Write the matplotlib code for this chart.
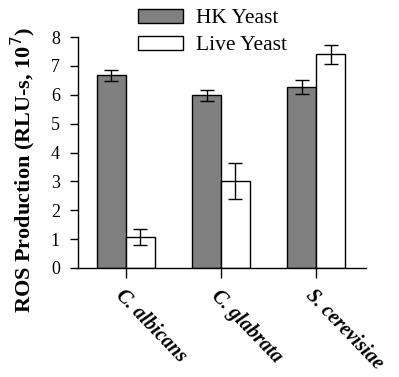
import matplotlib
matplotlib.use("Agg")
import matplotlib.pyplot as plt
import numpy as np

categories = ["C. albicans", "C. glabrata", "S. cerevisiae"]
hk_values = [6.67, 5.98, 6.26]
hk_err = [0.19, 0.18, 0.25]
live_values = [1.07, 3.01, 7.41]
live_err = [0.27, 0.62, 0.33]
series_names = ["HK Yeast", "Live Yeast"]
yticks = [0, 1, 2, 3, 4, 5, 6, 7, 8]

plt.rcParams['font.family'] = ['Liberation Serif', 'DejaVu Serif']

fig = plt.figure(figsize=(3.99, 3.77), dpi=100)
ax = fig.add_axes([78/399, 1-268/377, 288/399, 231/377])

x = np.arange(len(categories))
w = 0.305
ax.bar(x - w/2, hk_values, w, color='#808080', edgecolor='black', linewidth=1.0,
       yerr=hk_err, error_kw=dict(ecolor='black', elinewidth=1, capsize=5, capthick=1),
       label=series_names[0])
ax.bar(x + w/2, live_values, w, color='white', edgecolor='black', linewidth=1.0,
       yerr=live_err, error_kw=dict(ecolor='black', elinewidth=1, capsize=5, capthick=1),
       label=series_names[1])

ax.set_xlim(-0.505, 2.526)
ax.set_ylim(0, 8)
ax.set_yticks(yticks)
ax.set_yticklabels([str(t) for t in yticks], fontsize=13)
ax.set_xticks(x)
ax.set_xticklabels(categories, fontsize=14.5, fontweight='bold', fontstyle='italic',
                   rotation=-46, ha='left', va='top', rotation_mode='anchor')
ax.tick_params(axis='y', direction='out', length=6, width=1, pad=7)
ax.tick_params(axis='x', direction='out', length=7, width=1, pad=6)
for s in ['top', 'right']:
    ax.spines[s].set_visible(False)
for s in ['left', 'bottom']:
    ax.spines[s].set_linewidth(1.0)

ax.set_ylabel("ROS Production (RLU-s, 10$^7$)", fontsize=16, fontweight='bold')
ax.yaxis.set_label_coords(38/399, 1-170/377, transform=fig.transFigure)

leg = ax.legend(loc='upper left', bbox_to_anchor=(138/399, 1-9/377), bbox_transform=fig.transFigure,
                frameon=False, fontsize=15.5, handlelength=2.1, handleheight=0.6,
                labelspacing=0.35, handletextpad=0.6, borderaxespad=0, borderpad=0)

fig.savefig("out.png", dpi=100)
